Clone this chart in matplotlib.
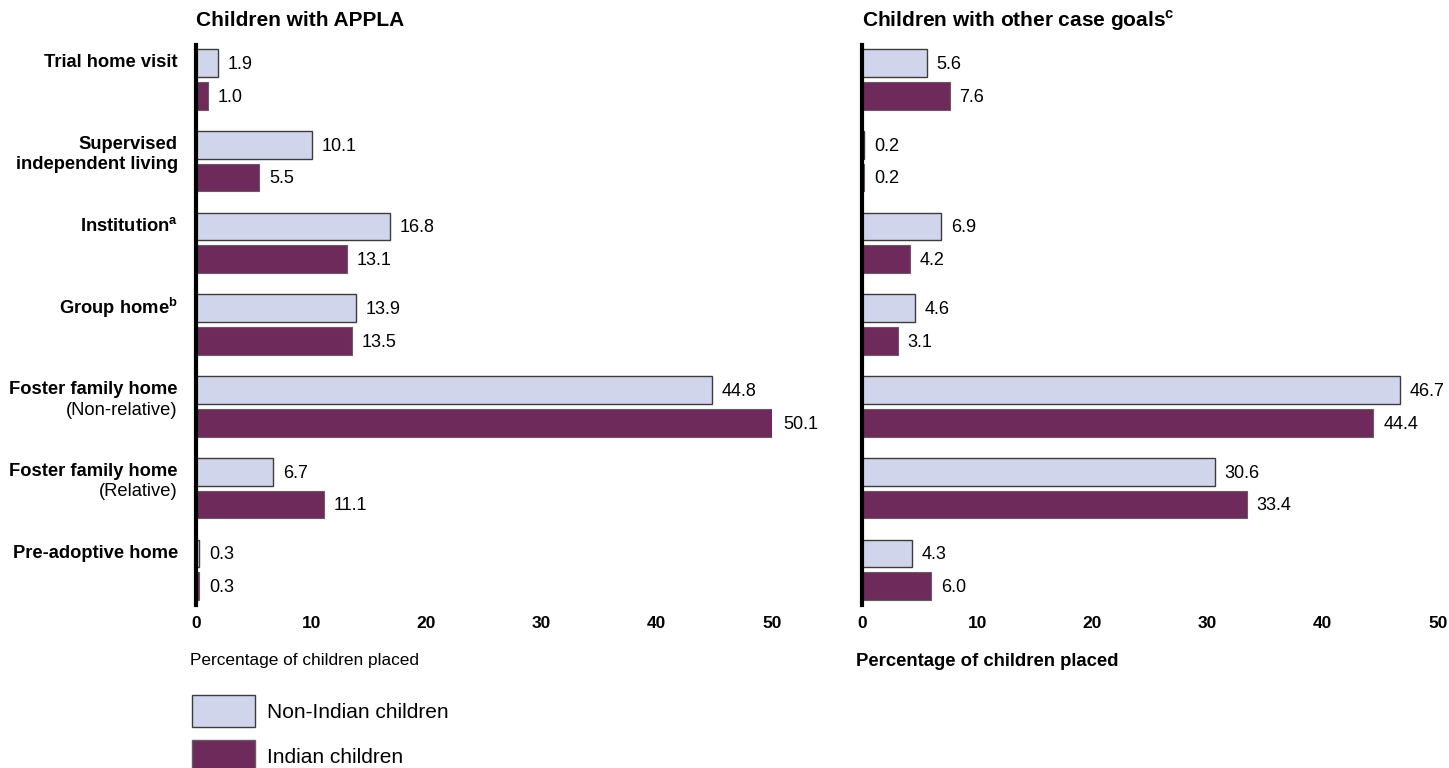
import matplotlib
matplotlib.use("Agg")
import matplotlib.pyplot as plt
from matplotlib.patches import Patch
import numpy as np

plt.rcParams["font.family"] = ["Liberation Sans", "DejaVu Sans"]
plt.rcParams["mathtext.fontset"] = "custom"
plt.rcParams["mathtext.rm"] = "Liberation Sans"

# (bold line, second line, second line bold?)
categories = [
    ("Trial home visit", "", False),
    ("Supervised", "independent living", True),
    ("Institution$^{\\mathregular{a}}$", "", False),
    ("Group home$^{\\mathregular{b}}$", "", False),
    ("Foster family home", "(Non-relative)", False),
    ("Foster family home", "(Relative)", False),
    ("Pre-adoptive home", "", False),
]

appla_non_indian = [1.9, 10.1, 16.8, 13.9, 44.8, 6.7, 0.3]
appla_indian = [1.0, 5.5, 13.1, 13.5, 50.1, 11.1, 0.3]
other_non_indian = [5.6, 0.2, 6.9, 4.6, 46.7, 30.6, 4.3]
other_indian = [7.6, 0.2, 4.2, 3.1, 44.4, 33.4, 6.0]

panel_titles = ["Children with APPLA", "Children with other case goals$^{\\mathregular{c}}$"]
series_names = ["Non-Indian children", "Indian children"]
xticks = [0, 10, 20, 30, 40, 50]

light = "#D0D5EC"
purple = "#6E2A5A"
edge = "#3C3C3C"
edge2 = "#6a5a65"

fig = plt.figure(figsize=(14.49, 7.68), dpi=100)
W, H = 1449, 768


def make_axes(left_px):
    return fig.add_axes([left_px / W, 1 - 605 / H, 576 / W, 560 / H])


ax1 = make_axes(196)
ax2 = make_axes(862)

y = np.arange(len(categories))
off = 0.2
bh = 0.34

for ax, a, b, title, xlab_bold in [
    (ax1, appla_non_indian, appla_indian, panel_titles[0], False),
    (ax2, other_non_indian, other_indian, panel_titles[1], True),
]:
    bars1 = ax.barh(y - off, a, height=bh, color=light, edgecolor=edge, linewidth=1)
    bars2 = ax.barh(y + off, b, height=bh, color=purple, edgecolor=edge2, linewidth=0.8)
    for bars, vals in [(bars1, a), (bars2, b)]:
        for bar, v in zip(bars, vals):
            ax.annotate(f"{v:.1f}", (v, bar.get_y() + bar.get_height() / 2),
                        xytext=(7, -1), textcoords="offset points",
                        ha="left", va="center", fontsize=13,
                        annotation_clip=False)
    ax.set_xlim(0, 50)
    ax.set_ylim(6.43, -0.42)
    ax.set_yticks([])
    ax.set_xticks(xticks)
    ax.set_xticklabels([str(t) for t in xticks], fontweight="bold", fontsize=12.5)
    ax.tick_params(axis="x", length=0, pad=8)
    for s in ["top", "right", "bottom"]:
        ax.spines[s].set_visible(False)
    ax.spines["left"].set_linewidth(3)
    ax.spines["left"].set_color("black")
    ax.text(0, 1.043, title, transform=ax.transAxes, fontsize=15,
            fontweight="bold", ha="left", va="center")
    ax.text(-0.01, -0.1, "Percentage of children placed", transform=ax.transAxes,
            fontsize=13.3 if xlab_bold else 12.4,
            fontweight="bold" if xlab_bold else "normal",
            ha="left", va="center")

# category labels on the left panel
for i, (first, second, second_bold) in enumerate(categories):
    ax1.annotate(first, (0, i - off), xycoords=("axes fraction", "data"),
                 xytext=(-13, 0), textcoords="offset points",
                 ha="right", va="center", fontsize=13.2, fontweight="bold")
    if second:
        ax1.annotate(second, (0, i - off), xycoords=("axes fraction", "data"),
                     xytext=(-13, -14.5), textcoords="offset points",
                     ha="right", va="center", fontsize=13.2,
                     fontweight="bold" if second_bold else "normal")

handles = [Patch(facecolor=light, edgecolor=edge, linewidth=1),
           Patch(facecolor=purple, edgecolor=edge2, linewidth=1)]
fig.legend(handles, series_names, loc="upper left",
           bbox_to_anchor=(192 / W, 1 - 695 / H), frameon=False,
           fontsize=15, handlelength=3.0, handleheight=2.0,
           handletextpad=0.6, labelspacing=0.63, borderpad=0, borderaxespad=0)

fig.savefig("out.png", dpi=100)
